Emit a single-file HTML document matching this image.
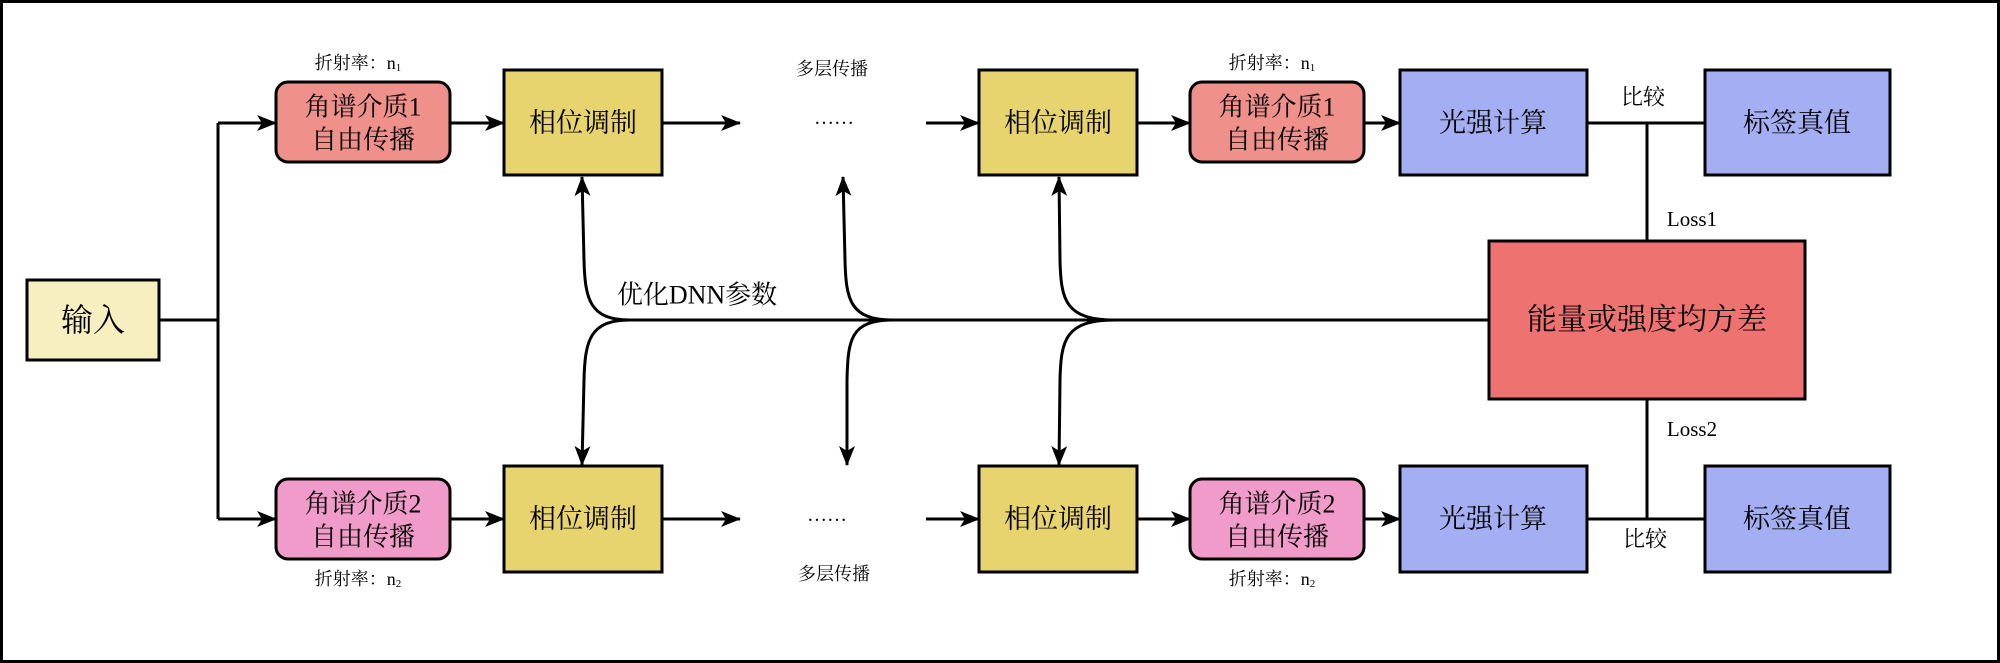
<!DOCTYPE html>
<html><head><meta charset="utf-8"><style>
html,body{margin:0;padding:0;background:#fff}
svg{display:block}
text{font-family:"Liberation Serif","Noto Serif CJK SC",serif;fill:#000}
</style></head><body>
<svg width="2000" height="663" viewBox="0 0 2000 663" xmlns="http://www.w3.org/2000/svg">
<defs>
<marker id="a" viewBox="0 0 20 16" refX="19" refY="8" markerWidth="20" markerHeight="16" markerUnits="userSpaceOnUse" orient="auto">
<path d="M0,0 L20,8 L0,16 L5,8 Z" fill="#000"/>
</marker>
</defs>
<rect x="1.5" y="1.5" width="1997" height="660" fill="#fff" stroke="#000" stroke-width="3"/>
<g stroke="#000" stroke-width="3" fill="none">
<line x1="159" y1="320" x2="218" y2="320"/>
<polyline points="218,123 218,519"/>
<line x1="218" y1="123" x2="276" y2="123" marker-end="url(#a)"/>
<line x1="218" y1="519" x2="276" y2="519" marker-end="url(#a)"/>
<line x1="450" y1="123" x2="504" y2="123" marker-end="url(#a)"/>
<line x1="450" y1="519" x2="504" y2="519" marker-end="url(#a)"/>
<line x1="662" y1="123" x2="740" y2="123" marker-end="url(#a)"/>
<line x1="662" y1="519" x2="740" y2="519" marker-end="url(#a)"/>
<line x1="926" y1="123" x2="979" y2="123" marker-end="url(#a)"/>
<line x1="926" y1="519" x2="979" y2="519" marker-end="url(#a)"/>
<line x1="1137" y1="123" x2="1190" y2="123" marker-end="url(#a)"/>
<line x1="1137" y1="519" x2="1190" y2="519" marker-end="url(#a)"/>
<line x1="1364" y1="123" x2="1400" y2="123" marker-end="url(#a)"/>
<line x1="1364" y1="519" x2="1400" y2="519" marker-end="url(#a)"/>
<line x1="1587" y1="123" x2="1705" y2="123"/>
<line x1="1587" y1="519" x2="1705" y2="519"/>
<line x1="1647" y1="123" x2="1647" y2="241"/>
<line x1="1647" y1="399" x2="1647" y2="519"/>
<line x1="630" y1="320" x2="1489" y2="320"/>
<path d="M630,320 C590,320 585,300 584,260 L582,177" marker-end="url(#a)"/>
<path d="M630,320 C590,320 585,340 584,380 L582,465" marker-end="url(#a)"/>
<path d="M893,320 C850,320 846,300 845,260 L843,177" marker-end="url(#a)"/>
<path d="M893,320 C850,320 848,340 847,380 L847,465" marker-end="url(#a)"/>
<path d="M1115,320 C1065,320 1061,300 1060,260 L1059,177" marker-end="url(#a)"/>
<path d="M1115,320 C1065,320 1061,340 1060,380 L1059,465" marker-end="url(#a)"/>
</g>
<g stroke="#000" stroke-width="3">
<rect x="27" y="280" width="132" height="80" fill="#f7efc0"/>
<rect x="276" y="82" width="174" height="80" rx="12" fill="#f0908b"/>
<rect x="276" y="479" width="174" height="80" rx="12" fill="#f19bca"/>
<rect x="504" y="70" width="158" height="105" fill="#e8d46e"/>
<rect x="504" y="466" width="158" height="106" fill="#e8d46e"/>
<rect x="979" y="70" width="158" height="105" fill="#e8d46e"/>
<rect x="979" y="466" width="158" height="106" fill="#e8d46e"/>
<rect x="1190" y="82" width="174" height="80" rx="12" fill="#f0908b"/>
<rect x="1190" y="479" width="174" height="80" rx="12" fill="#f19bca"/>
<rect x="1400" y="70" width="187" height="105" fill="#a4aef2"/>
<rect x="1400" y="466" width="187" height="106" fill="#a4aef2"/>
<rect x="1705" y="70" width="185" height="105" fill="#a4aef2"/>
<rect x="1705" y="466" width="185" height="106" fill="#a4aef2"/>
<rect x="1489" y="241" width="316" height="158" fill="#ee7370"/>
</g>
<g text-anchor="middle" dominant-baseline="central">
<text x="93" y="320" font-size="32">输入</text>
<text x="363" y="107" font-size="26">角谱介质1</text>
<text x="363" y="140" font-size="26">自由传播</text>
<text x="363" y="504" font-size="26">角谱介质2</text>
<text x="363" y="537" font-size="26">自由传播</text>
<text x="1277" y="107" font-size="26">角谱介质1</text>
<text x="1277" y="140" font-size="26">自由传播</text>
<text x="1277" y="504" font-size="26">角谱介质2</text>
<text x="1277" y="537" font-size="26">自由传播</text>
<text x="583" y="123" font-size="27">相位调制</text>
<text x="583" y="519" font-size="27">相位调制</text>
<text x="1058" y="123" font-size="27">相位调制</text>
<text x="1058" y="519" font-size="27">相位调制</text>
<text x="1493" y="123" font-size="27">光强计算</text>
<text x="1493" y="519" font-size="27">光强计算</text>
<text x="1797" y="123" font-size="27">标签真值</text>
<text x="1797" y="519" font-size="27">标签真值</text>
<text x="1647" y="320" font-size="30">能量或强度均方差</text>
<text x="834" y="118" font-size="20">……</text>
<text x="827" y="515" font-size="20">……</text>
<text x="832" y="69" font-size="18">多层传播</text>
<text x="834" y="574" font-size="18">多层传播</text>
<text x="697" y="295" font-size="26">优化DNN参数</text>
<text x="1643" y="97" font-size="22">比较</text>
<text x="1645" y="539" font-size="22">比较</text>
<text x="1692" y="219" font-size="21">Loss1</text>
<text x="1692" y="429" font-size="21">Loss2</text>
<text x="358" y="63" font-size="18">折射率：n<tspan font-size="11" dy="5">1</tspan></text>
<text x="358" y="579" font-size="18">折射率：n<tspan font-size="11" dy="5">2</tspan></text>
<text x="1272" y="63" font-size="18">折射率：n<tspan font-size="11" dy="5">1</tspan></text>
<text x="1272" y="579" font-size="18">折射率：n<tspan font-size="11" dy="5">2</tspan></text>
</g>
</svg>
</body></html>
